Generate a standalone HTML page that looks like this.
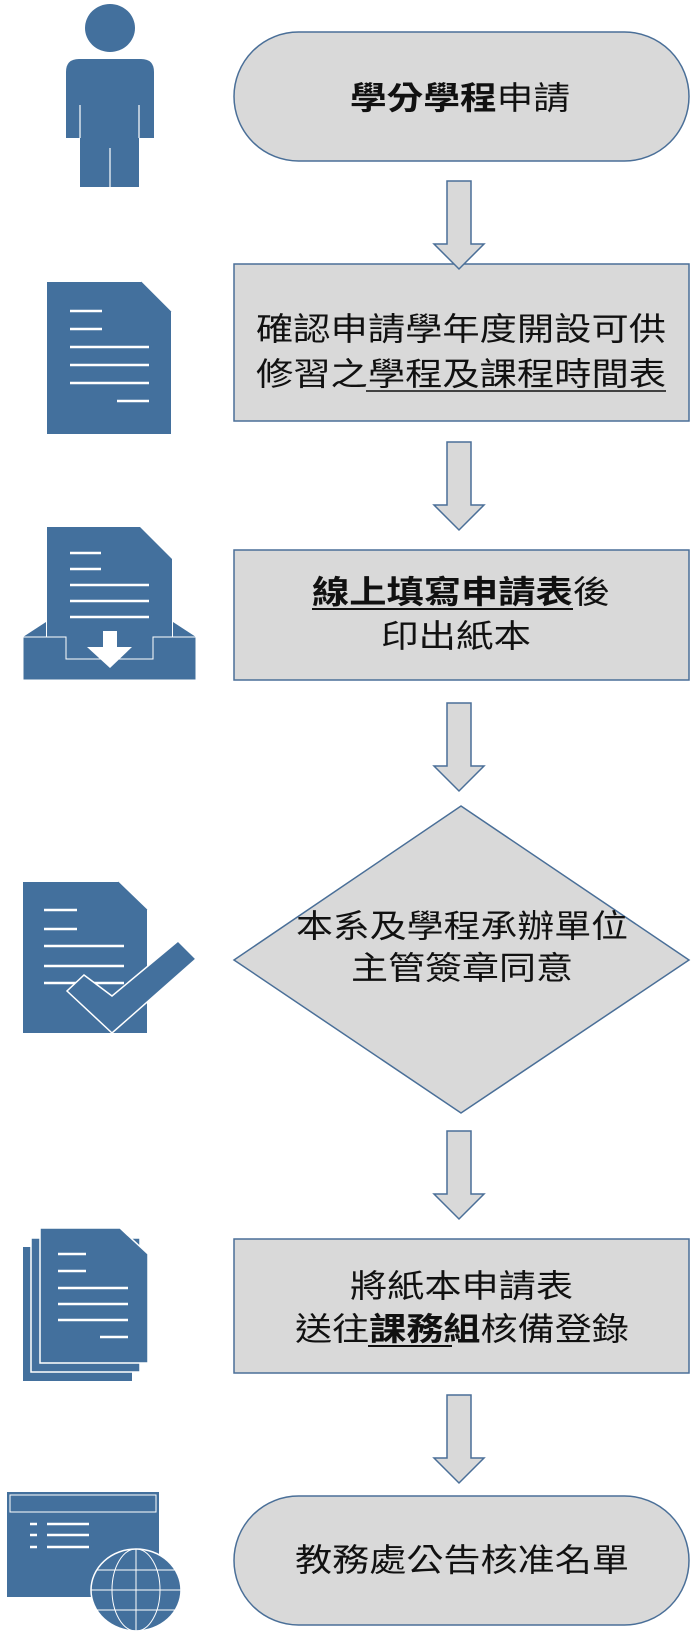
<!DOCTYPE html>
<html><head><meta charset="utf-8"><style>
html,body{margin:0;padding:0;background:#fff;}
svg{display:block;}
text{font-family:"Liberation Sans","Noto Sans CJK TC",sans-serif;font-size:32px;fill:#111;}
.b{font-weight:bold;}
</style></head><body>
<svg width="694" height="1644" viewBox="0 0 694 1644" xmlns="http://www.w3.org/2000/svg">
<defs>
<g id="arr"><path d="M-12,0 H12 V63 H25 L0,88 L-25,63 H-12 Z" fill="#d9d9d9" stroke="#4a6f98" stroke-width="1.5"/></g>
</defs>
<g fill="#d9d9d9" stroke="#4a6f98" stroke-width="1.5">
<rect x="234" y="32" width="455" height="129" rx="64.5"/>
<rect x="234" y="264" width="455" height="157"/>
<rect x="234" y="550" width="455" height="130"/>
<polygon points="461,806 689,960 461,1113 234,960"/>
<rect x="234" y="1239" width="455" height="134"/>
<rect x="234" y="1496" width="455" height="129" rx="64.5"/>
</g>
<use href="#arr" x="459" y="181"/>
<use href="#arr" x="459" y="442"/>
<use href="#arr" x="459" y="703"/>
<use href="#arr" x="459" y="1131"/>
<use href="#arr" x="459" y="1395"/>

<!-- texts -->
<text x="350" y="109" textLength="220" lengthAdjust="spacingAndGlyphs"><tspan class="b">學分學程</tspan>申請</text>
<text x="256" y="340" textLength="410" lengthAdjust="spacingAndGlyphs">確認申請學年度開設可供</text>
<text x="256" y="385" textLength="410" lengthAdjust="spacingAndGlyphs">修習之學程及課程時間表</text>
<line x1="366" y1="391" x2="666" y2="391" stroke="#111" stroke-width="1.5"/>
<text x="312" y="603" textLength="298" lengthAdjust="spacingAndGlyphs"><tspan class="b">線上填寫申請表</tspan>後</text>
<line x1="312" y1="609" x2="573" y2="609" stroke="#111" stroke-width="2"/>
<text x="381" y="647" textLength="150" lengthAdjust="spacingAndGlyphs">印出紙本</text>
<text x="296" y="937" textLength="332" lengthAdjust="spacingAndGlyphs">本系及學程承辦單位</text>
<text x="351" y="979" textLength="222" lengthAdjust="spacingAndGlyphs">主管簽章同意</text>
<text x="350" y="1297" textLength="223" lengthAdjust="spacingAndGlyphs">將紙本申請表</text>
<text x="295" y="1340" textLength="334" lengthAdjust="spacingAndGlyphs">送往<tspan class="b">課務組</tspan>核備登錄</text>
<line x1="368" y1="1346" x2="452" y2="1346" stroke="#111" stroke-width="2"/>
<text x="295" y="1571" textLength="334" lengthAdjust="spacingAndGlyphs">教務處公告核准名單</text>

<g fill="#43709d">
<!-- person -->
<ellipse cx="110" cy="28" rx="25" ry="24"/>
<path d="M66,138 V72 Q66,59 79,59 H141 Q154,59 154,72 V138 H139 V187 H80 V138 Z"/>
<g stroke="#fff" stroke-width="1.2"><line x1="80" y1="105" x2="80" y2="138"/><line x1="139" y1="105" x2="139" y2="138"/><line x1="110" y1="148" x2="110" y2="187"/></g>

<!-- doc 1 -->
<path d="M47,282 H141 L171,312 V434 H47 Z"/>
<line x1="141" y1="282" x2="171" y2="312" stroke="#43709d" stroke-width="1"/>
<g stroke="#fff" stroke-width="2.5"><line x1="70" y1="311" x2="102" y2="311"/><line x1="70" y1="329" x2="102" y2="329"/><line x1="70" y1="347" x2="149" y2="347"/><line x1="70" y1="365" x2="149" y2="365"/><line x1="70" y1="383" x2="149" y2="383"/><line x1="117" y1="401" x2="149" y2="401"/></g>

<!-- inbox -->
<path d="M47,527 H140 L172,559 V660 H47 Z"/>
<g stroke="#fff" stroke-width="2.5"><line x1="70" y1="553" x2="101" y2="553"/><line x1="70" y1="569" x2="101" y2="569"/><line x1="70" y1="585" x2="149" y2="585"/><line x1="70" y1="601" x2="149" y2="601"/><line x1="70" y1="617" x2="149" y2="617"/></g>
<path d="M23,637 L46,622 V637 Z M196,637 L173,622 V637 Z"/>
<path d="M23,637 H66 V659 H153 V637 H196 V680 H23 Z" stroke="#fff" stroke-width="1"/>
<path d="M103,631 H117 V647 H132 L110,668 L87,647 H103 Z" fill="#fff"/>

<!-- check doc -->
<path d="M23,882 H118 L147,910 V1033 H23 Z"/>
<line x1="118" y1="882" x2="147" y2="910" stroke="#43709d" stroke-width="1"/>
<g stroke="#fff" stroke-width="2.5"><line x1="44" y1="910" x2="77" y2="910"/><line x1="44" y1="929" x2="77" y2="929"/><line x1="44" y1="946" x2="124" y2="946"/><line x1="44" y1="966" x2="124" y2="966"/><line x1="44" y1="983" x2="124" y2="983"/></g>
<polygon points="84,975 112,996 178,941 196,959 112,1033 67,991" stroke="#fff" stroke-width="1.5"/>

<!-- stack -->
<rect x="23" y="1247" width="109" height="134"/>
<rect x="31" y="1238" width="109" height="134" stroke="#fff" stroke-width="1.5"/>
<path d="M40,1228 H120 L148,1254 V1363 H40 Z" stroke="#fff" stroke-width="1.5"/>
<g stroke="#fff" stroke-width="2.5"><line x1="58" y1="1254" x2="86" y2="1254"/><line x1="58" y1="1271" x2="86" y2="1271"/><line x1="58" y1="1288" x2="128" y2="1288"/><line x1="58" y1="1304" x2="128" y2="1304"/><line x1="58" y1="1320" x2="128" y2="1320"/><line x1="100" y1="1337" x2="128" y2="1337"/></g>

<!-- browser -->
<rect x="7" y="1492" width="152" height="105"/>
<rect x="10" y="1495" width="146" height="17" fill="none" stroke="#fff" stroke-width="1"/>
<g stroke="#fff" stroke-width="2.5"><line x1="30" y1="1524" x2="37" y2="1524"/><line x1="30" y1="1535" x2="37" y2="1535"/><line x1="30" y1="1547" x2="37" y2="1547"/><line x1="47" y1="1524" x2="89" y2="1524"/><line x1="47" y1="1535" x2="89" y2="1535"/><line x1="47" y1="1547" x2="89" y2="1547"/></g>
<ellipse cx="136" cy="1590" rx="45" ry="41" stroke="#fff" stroke-width="1.5"/>
<g fill="none" stroke="#fff" stroke-width="1"><ellipse cx="136" cy="1590" rx="24" ry="41"/><line x1="136" y1="1549" x2="136" y2="1631"/><line x1="91" y1="1590" x2="181" y2="1590"/><line x1="97" y1="1570" x2="175" y2="1570"/><line x1="97" y1="1610" x2="175" y2="1610"/></g>
</g>
</svg>
</body></html>
